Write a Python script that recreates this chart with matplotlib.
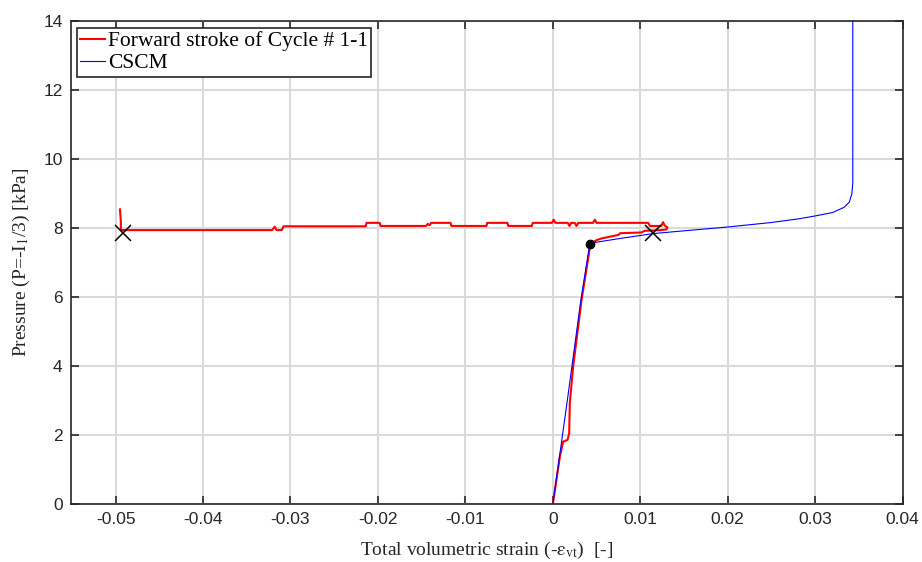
import numpy as np
import matplotlib
matplotlib.use("Agg")
import matplotlib.pyplot as plt

# forward stroke of cycle # 1-1 (red)
fwd_x = [0.0, 0.0008, 0.00118, 0.00168, 0.00187, 0.00194, 0.00232, 0.00328, 0.0043,
         0.0050, 0.0056, 0.0075, 0.0077, 0.0101, 0.0105, 0.0115, 0.0124, 0.0130,
         0.0131, 0.0128, 0.0126, 0.0124, 0.0111, 0.0109, 0.0107,
         0.0050, 0.0048, 0.0046, 0.0029, 0.0027, 0.0025, 0.0021, 0.0019, 0.0017,
         0.0003, 0.0001, -0.0001, -0.0023, -0.0024, -0.0051, -0.0052, -0.0075, -0.0076,
         -0.0116, -0.0117, -0.0139, -0.0141, -0.0143, -0.0145, -0.0197, -0.0198,
         -0.0213, -0.0214, -0.0308, -0.0310, -0.0316, -0.0318, -0.0321,
         -0.0494, -0.0494, -0.0495]
fwd_y = [0.0, 1.37, 1.81, 1.86, 2.05, 2.93, 3.98, 5.91, 7.54,
         7.65, 7.70, 7.80, 7.85, 7.87, 7.92, 7.93, 7.94, 7.96,
         8.02, 8.07, 8.17, 8.06, 8.06, 8.15, 8.15,
         8.15, 8.24, 8.15, 8.15, 8.06, 8.15, 8.15, 8.06, 8.15,
         8.15, 8.24, 8.15, 8.15, 8.06, 8.06, 8.15, 8.15, 8.06,
         8.06, 8.15, 8.15, 8.08, 8.12, 8.06, 8.06, 8.15,
         8.15, 8.05, 8.05, 7.94, 7.94, 8.04, 7.94,
         7.94, 8.2, 8.54]

# CSCM model (blue)
cscm_x = [0.0, 0.0016, 0.0032, 0.0042, 0.0045, 0.008, 0.0115, 0.0155, 0.020,
          0.025, 0.0282, 0.030, 0.032, 0.0333, 0.0339, 0.0342, 0.0343, 0.0343]
cscm_y = [0.0, 2.9, 5.9, 7.5, 7.57, 7.71, 7.84, 7.93, 8.03,
          8.16, 8.27, 8.35, 8.45, 8.6, 8.75, 9.0, 9.3, 14.0]

cross_x = [-0.0492, 0.0115]
cross_y = [7.85, 7.86]
dot_x = [0.0043]
dot_y = [7.54]

plt.rcParams['font.family'] = 'Liberation Sans'
plt.rcParams['mathtext.fontset'] = 'stix'

fig = plt.figure(figsize=(9.22, 5.62), dpi=100)
ax = fig.add_axes([0.077, 0.103, 0.902, 0.8597])

ax.plot(fwd_x, fwd_y, color='red', lw=1.5, label='Forward stroke of Cycle # 1-1', zorder=3)
ax.plot(cscm_x, cscm_y, color='#0000ff', lw=0.8, label='CSCM', zorder=4)
ax.plot(cross_x, cross_y, 'x', color='black', ms=11, mew=1.1, zorder=5)
ax.plot(dot_x, dot_y, 'o', color='black', ms=6, zorder=5)

ax.set_xlim(-0.0551, 0.04)
ax.set_ylim(0, 14)
ax.set_xticks(np.arange(-0.05, 0.041, 0.01))
ax.set_xticklabels(['-0.05', '-0.04', '-0.03', '-0.02', '-0.01', '0', '0.01', '0.02', '0.03', '0.04'])
ax.set_yticks(np.arange(0, 15, 2))
ax.grid(True, color='#dadada', lw=1.5, zorder=0)
ax.set_axisbelow(True)
ax.tick_params(direction='in', top=True, right=True, length=6, width=1.2,
               labelsize=12.5, pad=6, colors='#262626')
for s in ax.spines.values():
    s.set_linewidth(1.2)
    s.set_color('#262626')

ax.set_xlabel(r'Total volumetric strain (-$\mathrm{\epsilon}_{\mathrm{vt}}$)  [-]',
              family='Liberation Serif', fontsize=14, color='#262626')
ax.set_ylabel(r'Pressure (P=-I$_1$/3) [kPa]', family='Liberation Serif', fontsize=14,
              color='#262626')
ax.xaxis.set_label_coords(0.5, -0.074)
ax.yaxis.set_label_coords(-0.047, 0.5)

leg = ax.legend(loc='upper left', bbox_to_anchor=(0.0072, 0.9855), borderaxespad=0,
                prop={'family': 'Liberation Serif', 'size': 15.5}, handlelength=1.15,
                handletextpad=0.15, borderpad=0.15, labelspacing=0.1, fancybox=False,
                framealpha=1, edgecolor='#262626')
leg.get_frame().set_linewidth(1.2)

fig.savefig('out.png', dpi=100)
